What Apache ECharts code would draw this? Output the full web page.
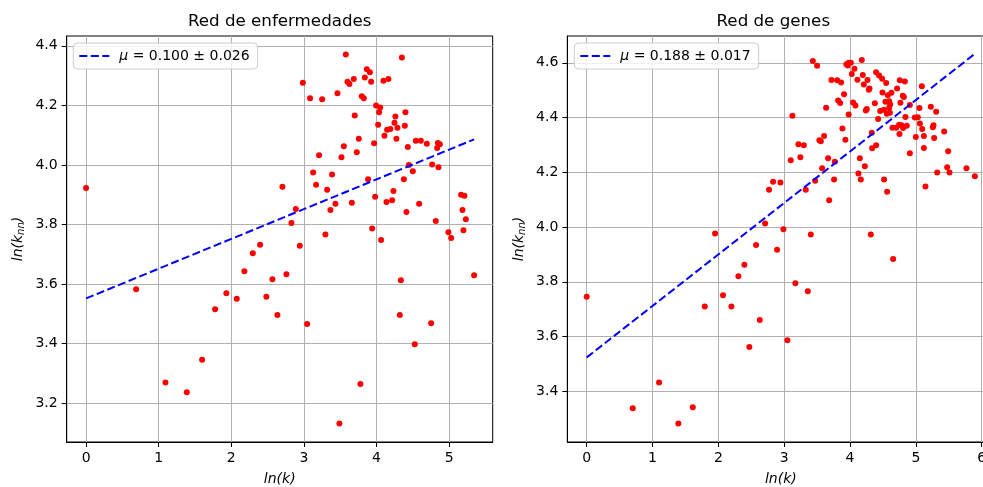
<!DOCTYPE html>
<html>
<head>
<meta charset="utf-8">
<script src="https://cdn.jsdelivr.net/npm/echarts@6/dist/echarts.min.js"></script>
<style>
  html, body { margin: 0; padding: 0; background: #fff; }
  #chart { width: 983px; height: 487px; }
</style>
</head>
<body>
<div id="chart"></div>
<script>
// ln(k) vs ln(k_nn) for the disease network
const diseaseLnK = [0, 0.689, 1.093, 1.387, 1.598, 1.777, 1.932, 2.075, 2.18, 2.296, 2.397, 2.483, 2.566, 2.635, 2.704, 2.759, 2.828, 2.888, 2.943, 2.985, 3.044, 3.085, 3.127, 3.168, 3.209, 3.251, 3.296, 3.32, 3.365, 3.388, 3.434, 3.462, 3.489, 3.517, 3.55, 3.577, 3.6, 3.627, 3.66, 3.687, 3.7, 3.728, 3.756, 3.778, 3.797, 3.825, 3.839, 3.866, 3.884, 3.908, 3.926, 3.94, 3.967, 3.981, 3.994, 4.022, 4.036, 4.05, 4.063, 4.095, 4.109, 4.137, 4.146, 4.164, 4.191, 4.215, 4.233, 4.247, 4.26, 4.274, 4.288, 4.321, 4.335, 4.349, 4.376, 4.39, 4.398, 4.412, 4.431, 4.445, 4.5, 4.527, 4.541, 4.587, 4.61, 4.693, 4.752, 4.766, 4.816, 4.835, 4.845, 4.853, 4.872, 4.99, 5.028, 5.165, 5.184, 5.197, 5.211, 5.23, 5.344];
const diseaseLnKnn = [3.923, 3.583, 3.27, 3.237, 3.346, 3.516, 3.569, 3.551, 3.643, 3.704, 3.732, 3.558, 3.616, 3.496, 3.927, 3.633, 3.805, 3.852, 3.729, 4.276, 3.466, 4.224, 3.975, 3.934, 4.033, 4.221, 3.767, 3.917, 3.849, 3.968, 3.87, 4.241, 3.132, 4.026, 4.063, 4.371, 4.279, 4.272, 3.873, 4.289, 4.166, 4.043, 4.088, 3.265, 4.231, 4.224, 4.294, 4.321, 3.952, 4.311, 4.279, 3.787, 4.073, 3.893, 4.2, 4.135, 4.177, 4.193, 3.748, 4.283, 4.098, 3.876, 4.118, 4.289, 4.121, 3.882, 3.913, 4.142, 4.163, 4.088, 4.125, 3.496, 3.613, 4.361, 3.952, 4.132, 4.177, 3.842, 4.06, 4.0, 3.979, 3.398, 4.081, 3.87, 4.081, 4.071, 3.469, 4.002, 3.812, 4.057, 4.074, 3.992, 4.07, 3.774, 3.755, 3.9, 3.849, 3.781, 3.897, 3.818, 3.63];
// fitted line endpoints (slope 0.100)
const diseaseFitX = [0, 5.344];
const diseaseFitY = [3.552, 4.086];

// ln(k) vs ln(k_nn) for the gene network
const geneLnK = [0, 0.699, 1.099, 1.392, 1.611, 1.793, 1.95, 2.071, 2.198, 2.304, 2.395, 2.471, 2.573, 2.629, 2.71, 2.77, 2.831, 2.892, 2.942, 2.988, 3.049, 3.1, 3.125, 3.17, 3.216, 3.246, 3.298, 3.328, 3.359, 3.404, 3.435, 3.47, 3.5, 3.535, 3.556, 3.576, 3.606, 3.637, 3.667, 3.683, 3.718, 3.758, 3.769, 3.804, 3.819, 3.85, 3.865, 3.885, 3.91, 3.93, 3.945, 3.966, 3.98, 3.98, 4.012, 4.027, 4.047, 4.067, 4.082, 4.113, 4.128, 4.149, 4.164, 4.179, 4.194, 4.21, 4.225, 4.24, 4.255, 4.265, 4.286, 4.295, 4.316, 4.331, 4.336, 4.377, 4.397, 4.397, 4.427, 4.442, 4.458, 4.488, 4.493, 4.514, 4.518, 4.538, 4.549, 4.559, 4.564, 4.574, 4.594, 4.594, 4.605, 4.61, 4.629, 4.645, 4.655, 4.701, 4.716, 4.746, 4.751, 4.757, 4.766, 4.781, 4.802, 4.807, 4.818, 4.833, 4.842, 4.863, 4.909, 4.909, 4.985, 5.0, 5.03, 5.055, 5.061, 5.091, 5.096, 5.122, 5.122, 5.146, 5.228, 5.258, 5.268, 5.278, 5.309, 5.324, 5.43, 5.476, 5.491, 5.511, 5.769, 5.897];
const geneLnKnn = [3.746, 3.338, 3.432, 3.283, 3.342, 3.71, 3.977, 3.751, 3.71, 3.82, 3.862, 3.562, 3.935, 3.661, 4.013, 4.136, 4.166, 3.917, 4.163, 3.992, 3.587, 4.244, 4.407, 3.795, 4.303, 4.255, 4.299, 4.136, 3.766, 3.973, 4.607, 4.169, 4.589, 4.317, 4.314, 4.215, 4.333, 4.436, 4.251, 4.098, 4.537, 4.174, 4.239, 4.536, 4.462, 4.453, 4.528, 4.36, 4.485, 4.319, 4.595, 4.59, 4.6, 4.411, 4.6, 4.559, 4.455, 4.578, 4.444, 4.538, 4.196, 4.251, 4.174, 4.61, 4.556, 4.521, 4.222, 4.426, 4.431, 4.537, 4.502, 4.506, 3.973, 4.345, 4.288, 4.452, 4.566, 4.299, 4.395, 4.554, 4.424, 4.542, 4.492, 4.429, 4.174, 4.458, 4.526, 4.414, 4.129, 4.482, 4.46, 4.436, 4.418, 4.448, 4.491, 4.363, 3.883, 4.363, 4.506, 4.374, 4.34, 4.536, 4.454, 4.372, 4.48, 4.362, 4.475, 4.532, 4.402, 4.37, 4.446, 4.27, 4.4, 4.329, 4.401, 4.435, 4.378, 4.514, 4.358, 4.333, 4.289, 4.148, 4.44, 4.365, 4.372, 4.325, 4.421, 4.199, 4.349, 4.219, 4.277, 4.199, 4.215, 4.186];
// fitted line endpoints (slope 0.188)
const geneFitX = [0, 5.897];
const geneFitY = [3.524, 4.633];

const panelTitles = ['Red de enfermedades', 'Red de genes'];
const fitLabels = ['0.100 \u00b1 0.026', '0.188 \u00b1 0.017'];
const xTicks = [[0, 1, 2, 3, 4, 5], [0, 1, 2, 3, 4, 5, 6]];
const yTicks = [[3.2, 3.4, 3.6, 3.8, 4.0, 4.2, 4.4], [3.4, 3.6, 3.8, 4.0, 4.2, 4.4, 4.6]];

const FONT = 'DejaVu Sans';
const zip = (a, b) => a.map((v, i) => [v, b[i]]);

function xAxisFor(idx, min, max) {
  return {
    gridIndex: idx, type: 'value', min: min, max: max,
    minInterval: 1, maxInterval: 1,
    name: '{i|ln(k)}', nameLocation: 'middle', nameGap: 30,
    nameTextStyle: { rich: { i: { fontFamily: FONT, fontSize: 14, fontStyle: 'italic', color: '#000' } } },
    axisLine: { show: true, onZero: false, lineStyle: { color: '#000', width: 1 } },
    axisTick: { show: true, length: 5, lineStyle: { color: '#000' }, customValues: xTicks[idx] },
    axisLabel: { color: '#000', fontFamily: FONT, fontSize: 14, margin: 9, customValues: xTicks[idx],
      formatter: v => String(Math.round(v)) },
    splitLine: { show: true, lineStyle: { color: '#b0b0b0', width: 1 } }
  };
}
function yAxisFor(idx, min, max) {
  return {
    gridIndex: idx, type: 'value', min: min, max: max,
    minInterval: 0.2, maxInterval: 0.2, splitNumber: 7,
    name: '{i|ln(k}{s|nn}{i|)}', nameLocation: 'middle', nameRotate: 90, nameGap: 40,
    nameTextStyle: { rich: {
      i: { fontFamily: FONT, fontSize: 14, fontStyle: 'italic', color: '#000' },
      s: { fontFamily: FONT, fontSize: 10, fontStyle: 'italic', color: '#000', padding: [6, 0, 0, 0] }
    } },
    axisLine: { show: true, onZero: false, lineStyle: { color: '#000', width: 1 } },
    axisTick: { show: true, length: 5, lineStyle: { color: '#000' }, customValues: yTicks[idx] },
    axisLabel: { color: '#000', fontFamily: FONT, fontSize: 14, margin: 9, customValues: yTicks[idx],
      formatter: v => v.toFixed(1) },
    splitLine: { show: true, lineStyle: { color: '#b0b0b0', width: 1 } }
  };
}
function legendFor(idx, left) {
  return {
    data: ['fit' + idx], left: left, top: 43, orient: 'vertical',
    padding: [6, 8, 6, 5], itemWidth: 30, itemHeight: 14,
    itemStyle: { opacity: 0 },
    backgroundColor: 'rgba(255,255,255,0.8)', borderColor: '#cccccc', borderWidth: 1, borderRadius: 4,
    formatter: () => '{m|\u03bc} = ' + fitLabels[idx],
    textStyle: { fontFamily: FONT, fontSize: 14, color: '#000', padding: [0, 0, 0, 5],
      rich: { m: { fontFamily: FONT, fontSize: 14, fontStyle: 'italic', color: '#000' } } }
  };
}
function scatterFor(idx, xs, ys) {
  return {
    type: 'scatter', xAxisIndex: idx, yAxisIndex: idx, data: zip(xs, ys),
    symbolSize: 6, itemStyle: { color: '#ff0000', opacity: 1 }, z: 2, silent: true
  };
}
function fitFor(idx, xs, ys) {
  return {
    name: 'fit' + idx, type: 'line', xAxisIndex: idx, yAxisIndex: idx, data: zip(xs, ys),
    symbol: 'none', z: 3, silent: true,
    lineStyle: { color: '#0000ff', width: 2, type: [8, 3.5] },
    itemStyle: { color: '#0000ff' }
  };
}

const chart = echarts.init(document.getElementById('chart'), null, { renderer: 'canvas' });
chart.setOption({
  animation: false,
  backgroundColor: '#fff',
  grid: [
    { left: 66.7, top: 36, width: 426, height: 406, show: true, borderColor: '#000', borderWidth: 1,
      containLabel: false, outerBoundsMode: 'none' },
    // right panel runs past the page edge; its right border falls outside the canvas
    { left: 567.3, top: 36, width: 427, height: 406, show: true, borderColor: '#000', borderWidth: 1,
      containLabel: false, outerBoundsMode: 'none' }
  ],
  xAxis: [xAxisFor(0, -0.267, 5.6), xAxisFor(1, -0.295, 6.192)],
  yAxis: [yAxisFor(0, 3.07, 4.433), yAxisFor(1, 3.215, 4.698)],
  legend: [legendFor(0, 73.3), legendFor(1, 574.3)],
  graphic: [
    { type: 'text', x: 279.7, y: 22, style: { text: panelTitles[0], font: '16.7px "DejaVu Sans"', fill: '#000', align: 'center', verticalAlign: 'middle' } },
    { type: 'text', x: 773.3, y: 22, style: { text: panelTitles[1], font: '16.7px "DejaVu Sans"', fill: '#000', align: 'center', verticalAlign: 'middle' } }
  ],
  series: [
    scatterFor(0, diseaseLnK, diseaseLnKnn),
    fitFor(0, diseaseFitX, diseaseFitY),
    scatterFor(1, geneLnK, geneLnKnn),
    fitFor(1, geneFitX, geneFitY)
  ]
});
</script>
</body>
</html>
